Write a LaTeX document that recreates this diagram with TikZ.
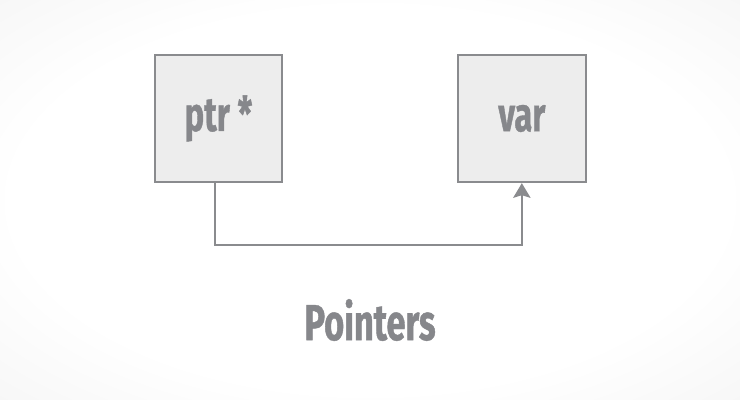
\documentclass[tikz,border=0pt]{standalone}
\usepackage{fontspec}
\newfontfamily\boxfont[FakeStretch=0.68, FakeBold=0.8]{Fira Sans}
\usetikzlibrary{positioning, arrows.meta}
\definecolor{linegray}{HTML}{8A8B8E}
\definecolor{textgray}{HTML}{86878B}
\definecolor{cellgray}{HTML}{EDEDED}
\pgfdeclareradialshading{backdrop}{\pgfpoint{0bp}{0bp}}{color(0bp)=(white); color(24bp)=(white); color(50bp)=(black!7)}
\tikzstyle{arrow} = [line width=1.5pt, draw=linegray, -{Stealth[length=11pt,width=13pt,inset=2pt]}]
\tikzstyle{cell} = [rectangle,
minimum width=95.5pt,
minimum height=95.5pt,
line width=1.5pt,
draw=linegray,
fill=cellgray,
text=textgray,
font=\boxfont\bfseries\fontsize{36pt}{36pt}\selectfont]
\tikzstyle{caption} = [text=textgray, font=\boxfont\bfseries\fontsize{38pt}{38pt}\selectfont]

\begin{document}
\begin{tikzpicture}[x=0.75pt, y=0.75pt, node distance=130.5pt]
            \shade [shading=backdrop] (0,0) rectangle (740,400);
            \useasboundingbox (0,0) rectangle (740,400);

            \node (ptr) [cell] at (218.5,281.5) {ptr *};
            \node (var) [cell, right=of ptr] {var};
            \node (title) [caption] at (370,80) {Pointers};

            \draw [arrow] ([xshift=-2.6pt]ptr.south) -- ++(0,-62) -| (var.south);
        \end{tikzpicture}
\end{document}
